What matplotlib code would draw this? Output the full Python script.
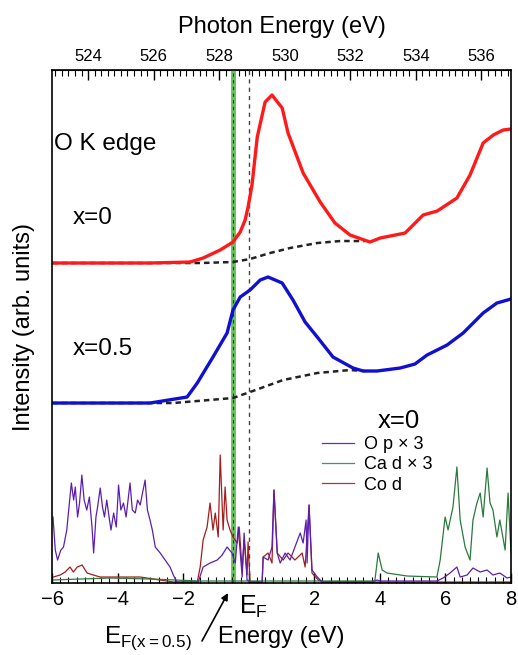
import numpy as np
import matplotlib
matplotlib.use("Agg")
import matplotlib.pyplot as plt

plt.rcParams['font.family'] = ['Liberation Sans', 'DejaVu Sans']

# XAS O K edge (energy in eV relative to E_F, intensity arb. units)
e_x0 = [-6.0, -3.01, -1.79, -1.39, -0.87, -0.48, -0.26, -0.11, -0.02, 0.10, 0.26, 0.50,
        0.71, 1.02, 1.20, 1.66, 2.18, 2.63, 3.09, 3.70, 4.01, 4.77, 5.32, 5.75, 6.35,
        6.75, 7.15, 7.46, 7.76, 8.0]
i_x0 = [3.20, 3.20, 3.21, 3.25, 3.33, 3.41, 3.51, 3.63, 3.76, 3.98, 4.46, 4.81,
        4.88, 4.75, 4.50, 4.10, 3.81, 3.60, 3.48, 3.41, 3.45, 3.50, 3.68, 3.72, 3.85,
        4.08, 4.40, 4.48, 4.53, 4.54]
e_x05 = [-6.0, -3.01, -1.88, -1.57, -1.09, -0.66, -0.48, -0.26, 0.04, 0.35, 0.59, 1.02,
         1.35, 1.72, 2.09, 2.57, 3.18, 3.49, 3.91, 4.62, 5.07, 5.44, 6.05, 6.54, 7.15,
         7.57, 8.0]
i_x05 = [1.80, 1.80, 1.86, 2.00, 2.26, 2.50, 2.73, 2.86, 2.93, 3.03, 3.06, 3.00,
         2.83, 2.61, 2.46, 2.26, 2.15, 2.12, 2.12, 2.15, 2.19, 2.28, 2.38, 2.50, 2.70,
         2.80, 2.84]

# step-like backgrounds
e_bg0 = [-6.0, -3.01, -1.48, -0.48, 0.04, 0.65, 1.26, 2.09, 2.79, 3.55]
i_bg0 = [3.20, 3.20, 3.20, 3.21, 3.24, 3.30, 3.35, 3.40, 3.42, 3.42]
e_bg05 = [-6.0, -2.30, -0.48, 0.04, 1.05, 2.09, 3.09, 3.55]
i_bg05 = [1.80, 1.80, 1.85, 1.91, 2.03, 2.10, 2.13, 2.12]

# partial DOS (x=0)
e_op = [-5.97, -5.90, -5.83, -5.73, -5.65, -5.55, -5.47, -5.41, -5.34, -5.29, -5.22, -5.16,
        -5.09, -5.02, -4.94, -4.86, -4.78, -4.73, -4.66, -4.61, -4.53, -4.46, -4.40, -4.33,
        -4.26, -4.20, -4.12, -4.04, -3.97, -3.90, -3.82, -3.74, -3.67, -3.62, -3.55, -3.46,
        -3.39, -3.31, -3.24, -3.16, -3.09, -3.01, -2.94, -2.85, -2.70, -2.55, -2.40, -2.30,
        -2.19, -1.54, -1.39, -1.18, -0.96, -0.81, -0.66, -0.51, -0.41, -0.32, -0.20, -0.14,
        -0.05, 0.04, 0.41, 0.44, 0.59, 0.71, 0.77, 0.87, 0.96, 1.11, 1.26, 1.41, 1.57, 1.66,
        1.75, 1.78, 1.84, 1.93, 2.09, 2.24, 3.79, 3.91, 4.01, 5.74, 5.93, 6.14, 6.35, 6.45,
        6.66, 6.84, 7.06, 7.27, 7.45, 7.66, 7.88, 8.0]
i_op = [0.66, 0.33, 0.23, 0.33, 0.36, 0.53, 0.80, 1.00, 0.83, 0.96, 0.66, 0.80,
        1.08, 0.83, 0.73, 0.86, 0.56, 0.30, 0.66, 0.76, 0.95, 0.76, 0.66, 0.83,
        0.66, 0.53, 0.70, 0.56, 0.98, 0.73, 0.80, 0.66, 0.86, 1.00, 0.73, 0.70,
        0.83, 0.78, 0.90, 1.03, 0.73, 0.63, 0.53, 0.36, 0.30, 0.23, 0.16, 0.08,
        0.01, 0.01, 0.16, 0.20, 0.23, 0.28, 0.36, 0.30, 0.20, 0.56, 0.06, 0.50,
        0.03, 0.01, 0.01, 0.26, 0.23, 0.36, 0.93, 0.30, 0.20, 0.30, 0.23, 0.36, 0.50, 0.40,
        0.63, 0.20, 0.78, 0.13, 0.06, 0.01, 0.01, 0.03, 0.02, 0.02, 0.05, 0.10, 0.16, 0.06,
        0.08, 0.15, 0.11, 0.13, 0.08, 0.10, 0.05, 0.06]
e_cad = [-6.0, -5.14, -4.22, -3.0, -1.48, 0.04, 1.57, 3.79, 3.85, 3.95, 4.07, 4.22, 4.83,
         5.74, 5.84, 5.99, 6.08, 6.23, 6.35, 6.45, 6.60, 6.75, 6.84, 6.96, 7.06, 7.15,
         7.27, 7.36, 7.45, 7.57, 7.66, 7.82, 7.91, 8.0]
i_cad = [0.03, 0.04, 0.05, 0.04, 0.02, 0.02, 0.02, 0.02, 0.03, 0.30, 0.13, 0.10, 0.07,
         0.06, 0.23, 0.66, 0.53, 0.76, 1.16, 0.63, 0.36, 0.23, 0.63, 0.80, 0.90, 0.66,
         1.15, 0.80, 0.73, 0.46, 0.63, 0.33, 0.90, 0.30]
e_cod = [-5.96, -5.75, -5.60, -5.45, -5.35, -5.23, -5.08, -4.93, -4.74, -4.53, -4.13, -3.31,
         -2.91, -2.30, -1.57, -1.48, -1.39, -1.27, -1.18, -1.09, -1.02, -0.93, -0.87, -0.78,
         -0.72, -0.66, -0.57, -0.48, -0.35, -0.29, -0.20, -0.14, -0.05, -0.02, 0.04, 0.41,
         0.44, 0.59, 0.71, 0.77, 0.87, 1.05, 1.20, 1.41, 1.63, 1.72, 1.84, 1.93, 2.12, 2.27,
         8.0]
i_cod = [0.06, 0.08, 0.11, 0.16, 0.11, 0.16, 0.18, 0.10, 0.08, 0.06, 0.06, 0.06,
         0.04, 0.01, 0.01, 0.16, 0.43, 0.56, 0.80, 0.53, 0.70, 0.46, 1.28, 0.53,
         0.96, 0.63, 0.53, 0.46, 0.40, 0.56, 0.13, 0.43, 0.08, 0.41, 0.01, 0.01,
         0.26, 0.30, 0.20, 0.93, 0.30, 0.23, 0.30, 0.23, 0.30, 0.16, 0.78, 0.10, 0.03, 0.01,
         0.01]

ef_x05 = -0.47
photon_offset = 528.9

fig = plt.figure(figsize=(5.18, 6.55), dpi=100)
ax = fig.add_axes([0.1004, 0.1099, 0.8861, 0.7832])

ax.plot(e_cod, i_cod, color='#a51c1c', lw=0.9)
ax.plot(e_cad, i_cad, color='#2a7a3e', lw=0.9)
ax.plot(e_op, i_op, color='#5b1fb0', lw=0.9)

ax.plot(e_bg0, i_bg0, color='#222222', lw=1.8, ls=(0, (2.2, 1.6)))
ax.plot(e_bg05, i_bg05, color='#222222', lw=1.8, ls=(0, (2.2, 1.6)))
ax.plot(e_x0, i_x0, color='#ff1a1a', lw=2.4)
ax.plot(e_x05, i_x05, color='#1010d0', lw=2.4)

ax.axvline(ef_x05, color='#66c25a', lw=3.5, zorder=1)
ax.axvline(ef_x05, color='#333333', lw=0.8, ls=(0, (3, 3)), zorder=1.5)
ax.axvline(0, color='#444444', lw=1.0, ls=(0, (3, 3)), zorder=1)

ax.set_xlim(-6, 8)
ax.set_ylim(0, 5.13)
ax.set_yticks([])
ax.set_xticks([-6, -4, -2, 0, 2, 4, 6, 8])
ax.set_xticklabels(['\u22126', '\u22124', '\u22122', '', '2', '4', '6', '8'], fontsize=14.5)
ax.set_xticks(np.arange(-6, 8.01, 0.25), minor=True)
ax.tick_params(axis='x', which='major', direction='in', length=7, width=1.0, pad=5)
ax.tick_params(axis='x', which='minor', direction='in', length=4, width=0.8)
for s in ax.spines.values():
    s.set_linewidth(1.2)

top = ax.secondary_xaxis('top', functions=(lambda e: e + photon_offset,
                                           lambda p: p - photon_offset))
top.set_xticks([524, 526, 528, 530, 532, 534, 536])
top.set_xticks(np.arange(523, 537.01, 0.2), minor=True)
top.tick_params(which='major', direction='in', length=7, width=1.0, labelsize=12, pad=4)
top.tick_params(which='minor', direction='in', length=4, width=0.8)
top.set_xlabel('Photon Energy (eV)', fontsize=17, labelpad=12)

ax.set_ylabel('Intensity (arb. units)', fontsize=17, labelpad=12)

ax.text(0.005, 0.845, 'O K edge', transform=ax.transAxes, fontsize=17.5)
ax.text(0.045, 0.70, 'x=0', transform=ax.transAxes, fontsize=17.5)
ax.text(0.045, 0.445, 'x=0.5', transform=ax.transAxes, fontsize=17.5)

leg = ax.legend(['O p \u00d7 3', 'Ca d \u00d7 3', 'Co d'], frameon=False, fontsize=13,
                loc='upper left', bbox_to_anchor=(0.569, 0.304), borderpad=0,
                handlelength=1.75, handletextpad=0.55, labelspacing=0.18)
for h, c in zip(leg.legend_handles, ['#6a2cc0', '#3f9a55', '#b83030']):
    h.set_color(c)
ax.text(0.756, 0.302, 'x=0', transform=ax.transAxes, fontsize=18.5, ha='center')

fig.text(281 / 518, 1 - 637 / 655, 'Energy (eV)', fontsize=17, ha='center', va='center')
fig.text(253 / 518, 1 - 607 / 655, 'E$_\\mathregular{F}$', fontsize=18, ha='center', va='center')
ax.annotate('', xy=(228, 62), xycoords='figure pixels',
            xytext=(202, 14), textcoords='figure pixels',
            arrowprops=dict(arrowstyle='-|>', color='black', lw=1.2, shrinkA=0, shrinkB=0,
                            mutation_scale=10))
fig.text(148 / 518, 12 / 655, 'E$_\\mathregular{F(x=0.5)}$', fontsize=17.5, ha='center',
         va='baseline')

fig.savefig('out.png', dpi=100)
